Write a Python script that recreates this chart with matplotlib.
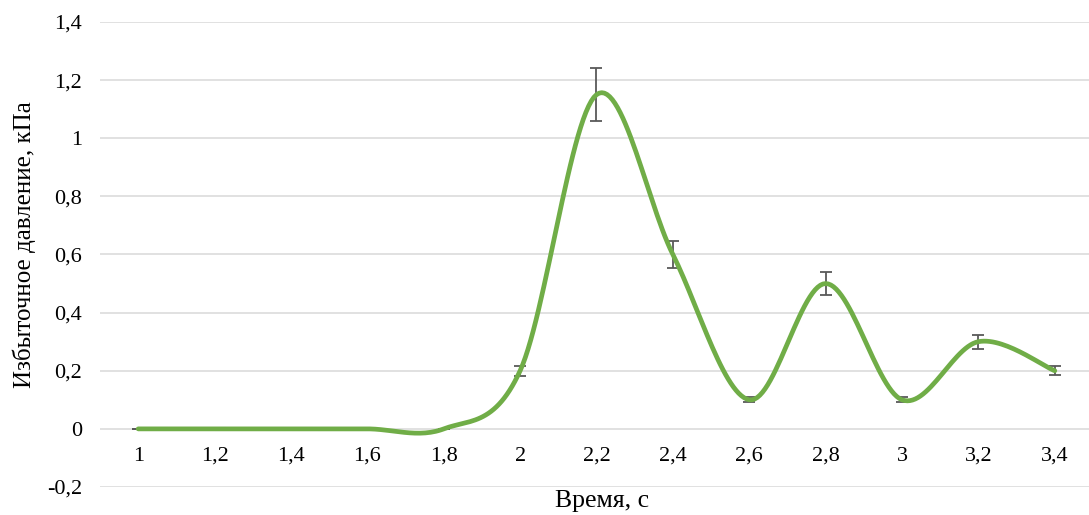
import numpy as np
import matplotlib.pyplot as plt

plt.rcParams['font.family'] = ['Liberation Serif', 'DejaVu Serif']

categories = ['1', '1,2', '1,4', '1,6', '1,8', '2', '2,2', '2,4', '2,6', '2,8', '3', '3,2', '3,4']
pressure = [0, 0, 0, 0, 0, 0.2, 1.15, 0.6, 0.1, 0.5, 0.1, 0.3, 0.2]
errors = [0, 0, 0, 0, 0, 0.017, 0.092, 0.048, 0.008, 0.04, 0.008, 0.024, 0.016]
y_ticks = [-0.2, 0, 0.2, 0.4, 0.6, 0.8, 1, 1.2, 1.4]


def smooth(xs, ys, n=30):
    # сглаживание как в Excel: кривые Безье, касательная = (P[i+1]-P[i-1])/6
    xs = np.asarray(xs, float)
    ys = np.asarray(ys, float)
    out_x, out_y = [], []
    t = np.linspace(0, 1, n)
    for i in range(len(xs) - 1):
        p0 = np.array([xs[i], ys[i]])
        p3 = np.array([xs[i + 1], ys[i + 1]])
        prev = np.array([xs[i - 1], ys[i - 1]]) if i > 0 else p0
        nxt = np.array([xs[i + 2], ys[i + 2]]) if i + 2 < len(xs) else p3
        p1 = p0 + (p3 - prev) / 6
        p2 = p3 - (nxt - p0) / 6
        pts = ((1 - t) ** 3)[:, None] * p0 + (3 * (1 - t) ** 2 * t)[:, None] * p1 \
            + (3 * (1 - t) * t ** 2)[:, None] * p2 + (t ** 3)[:, None] * p3
        out_x.extend(pts[:, 0])
        out_y.extend(pts[:, 1])
    return out_x, out_y


fig = plt.figure(figsize=(10.89, 5.15), dpi=100)
ax = fig.add_axes([100 / 1089, 1 - 487 / 515, 1 - 100 / 1089, (487 - 22) / 515])

x = np.arange(len(categories))
ax.errorbar(x, pressure, yerr=errors, fmt='none', ecolor='#595959',
            elinewidth=1.3, capsize=4.3, capthick=1.3, zorder=2)
sx, sy = smooth(x, pressure)
ax.plot(sx, sy, color='#70AD47', lw=3.4, solid_capstyle='round', zorder=3)

ax.set_xlim(-0.5, (1089 - 138) / 76.4)
ax.set_ylim(-0.2, 1.4)
ax.set_yticks(y_ticks)
ax.set_yticklabels([('%g' % v).replace('.', ',') for v in y_ticks])
ax.set_xticks(x)
ax.set_xticklabels(categories)
ax.grid(axis='y', color='#D9D9D9', lw=1.1)
ax.set_axisbelow(True)
for s in ax.spines.values():
    s.set_visible(False)
ax.spines['bottom'].set_position(('data', 0))
ax.tick_params(axis='both', length=0, labelsize=16, colors='black')
ax.tick_params(axis='y', pad=13)
ax.tick_params(axis='x', pad=13)

fig.text(602 / 1089, 1 - 501 / 515, 'Время, с', ha='center', va='center', fontsize=18.5)
fig.text(24 / 1089, 1 - 245 / 515, 'Избыточное давление, кПа', ha='center', va='center',
         rotation=90, fontsize=18)

fig.savefig('out.png', dpi=100)
